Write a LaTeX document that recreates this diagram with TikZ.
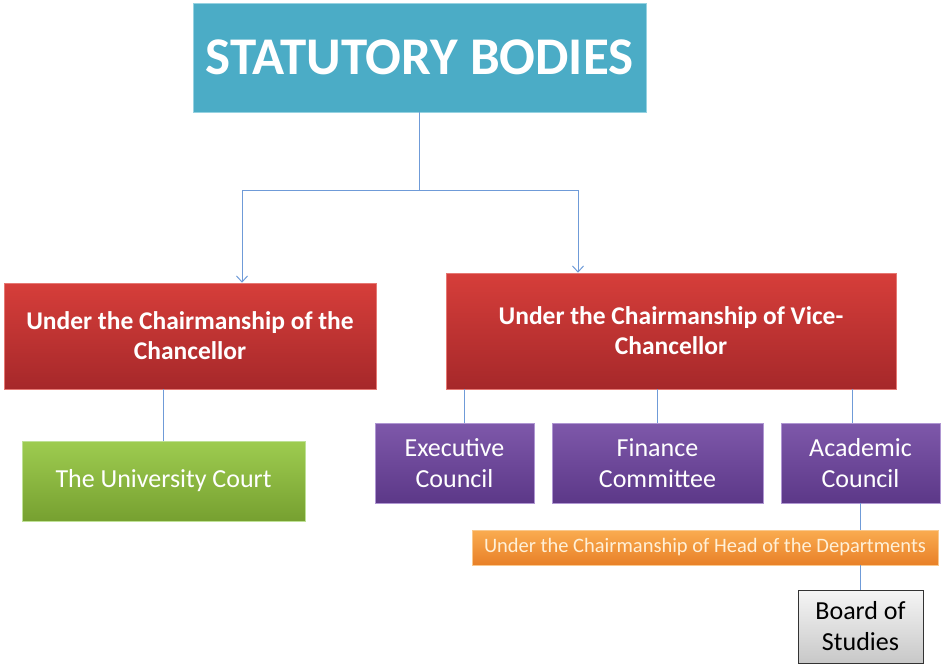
\documentclass[tikz,border=0pt]{standalone}
\usepackage{fontspec}
\setmainfont{Carlito}
\usetikzlibrary{arrows.meta}
\definecolor{topblue}{HTML}{4BACC6}
\definecolor{topedge}{HTML}{96D2E1}
\definecolor{linkblue}{HTML}{6F9BD8}
\definecolor{redtop}{RGB}{214,62,58}
\definecolor{redbot}{RGB}{166,40,42}
\definecolor{rededge}{RGB}{230,120,115}
\definecolor{purtop}{RGB}{126,88,170}
\definecolor{purbot}{RGB}{92,56,136}
\definecolor{puredge}{RGB}{175,150,210}
\definecolor{grntop}{RGB}{158,204,80}
\definecolor{grnbot}{RGB}{118,160,48}
\definecolor{grnedge}{RGB}{190,225,150}
\definecolor{ortop}{RGB}{250,172,80}
\definecolor{orbot}{RGB}{232,128,40}
\definecolor{oredge}{RGB}{250,200,140}
\definecolor{ortext}{RGB}{255,240,215}
\definecolor{gytop}{RGB}{245,245,245}
\definecolor{gybot}{RGB}{200,200,200}
\tikzset{
  x=1pt,y=-1pt,
  box/.style={inner sep=0pt, align=center, text=white, line width=0.6pt},
  redbox/.style={box, top color=redtop, bottom color=redbot, draw=rededge, font=\bfseries\fontsize{25.5}{30}\selectfont},
  purplebox/.style={box, top color=purtop, bottom color=purbot, draw=puredge, font=\fontsize{26}{31}\selectfont, minimum width=159pt, minimum height=80pt},
  link/.style={draw=linkblue, line width=1pt},
  arr/.style={link, -{Straight Barb[length=6pt,width=11pt,line width=1pt]}},
}
\begin{document}
\begin{tikzpicture}
\useasboundingbox (0,0) rectangle (941,664);
\node[box, fill=topblue, draw=topedge, minimum width=453pt, minimum height=109pt, font=\bfseries\fontsize{53}{60}\selectfont] (top) at (419.5,57.5) {STATUTORY BODIES};
\node[redbox, minimum width=372pt, minimum height=106pt] (chL) at (190,336) {Under the Chairmanship of the\\Chancellor};
\node[redbox, minimum width=450pt, minimum height=116pt] (chR) at (671,331) {Under the Chairmanship of Vice-\\Chancellor};
\node[box, top color=grntop, bottom color=grnbot, draw=grnedge, minimum width=283pt, minimum height=80pt, font=\fontsize{26}{31}\selectfont] (court) at (163.5,481) {The University Court};
\node[purplebox] (exec) at (454.5,463) {Executive\\Council};
\node[purplebox, minimum width=211pt] (fin) at (657.5,463) {Finance\\Committee};
\node[purplebox] (acad) at (860.5,463) {Academic\\Council};
\node[box, top color=ortop, bottom color=orbot, draw=oredge, minimum width=466pt, minimum height=35pt, font=\fontsize{20.5}{24}\selectfont, text=ortext] (head) at (705,547.5) {Under the Chairmanship of Head of the Departments};
\node[box, top color=gytop, bottom color=gybot, draw=black!80, line width=1pt, minimum width=125pt, minimum height=73pt, text=black, font=\fontsize{26}{31}\selectfont] (board) at (860.5,626.5) {Board of\\Studies};
\coordinate (jL) at (242,190);
\coordinate (jR) at (578,190);
\draw[arr] (top.south) |- (jL) -- (jL |- chL.north);
\draw[arr] (top.south) |- (jR) -- (jR |- chR.north);
\draw[link] (court.north) -- (court.north |- chL.south);
\draw[link] ([xshift=9.5pt]exec.north) -- ([xshift=9.5pt]exec.north |- chR.south);
\draw[link] (fin.north) -- (fin.north |- chR.south);
\draw[link] ([xshift=-8.5pt]acad.north) -- ([xshift=-8.5pt]acad.north |- chR.south);
\draw[link] (acad.south) -- (acad.south |- head.north);
\draw[link] (board.north) -- (board.north |- head.south);
\end{tikzpicture}
\end{document}
